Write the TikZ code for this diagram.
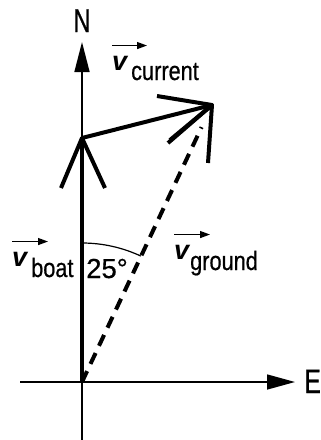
\documentclass[tikz,border=0pt]{standalone}
\usepackage{fontspec}
\setmainfont[FakeStretch=0.82,FakeBold=0.6]{Liberation Sans}
\newfontfamily\vfont{Liberation Sans}
\newfontfamily\widefont[FakeBold=0.6]{Liberation Sans}
\newfontfamily\narrowfont[FakeStretch=0.72,FakeBold=0.6]{Liberation Sans}
\usetikzlibrary{arrows.meta,calc}
\begin{document}
\begin{tikzpicture}[x=1pt,y=-1pt,
 axis/.style={line width=1.5pt},
 vec/.style={line width=4pt},
 barb/.style={line width=4pt, line join=round},
 gvec/.style={line width=4pt, dash pattern=on 12pt off 8pt},
 lbl/.style={inner sep=0pt, anchor=base west, font=\fontsize{26.5}{30}\selectfont},
 vlbl/.style={inner sep=0pt, anchor=base west, font=\vfont\bfseries\itshape\fontsize{27}{30}\selectfont},
 over/.style={line width=1.3pt, -{Triangle[length=10pt,width=7pt]}},
]
\useasboundingbox (0,0) rectangle (321,440);
\coordinate (O) at (82,382);
\coordinate (B) at (82,138);
\coordinate (C) at (212,105);
\coordinate (Nb) at (82,440);
\coordinate (Nt) at (82,42);
\coordinate (Ew) at (20,382);
\coordinate (Ee) at (295,382);
% axes
\draw[axis,-{Triangle[length=30pt,width=15pt]}] (Nb) -- (Nt);
\draw[axis,-{Triangle[length=28pt,width=15pt]}] (Ew) -- (Ee);
% ground (dashed)
\draw[gvec] (O) -- ($(O)!0.92!(C)$);
% boat
\draw[vec] (O) -- (B);
\draw[barb] ($(B)+(-21,50)$) -- (B) -- ($(B)+(23,50)$);
% current
\draw[vec] (B) -- (C);
\draw[barb] ($(C)+(-55,-9)$) -- (C) -- ($(C)+(-42,35)$);
\draw[barb] ($(C)+(-44,38)$) -- (C) -- ($(C)+(-4,58)$);
% angle arc
\draw[line width=1.2pt] ($(O)+(0,-139)$) arc[start angle=270, end angle=295, radius=139];
% labels
\node[inner sep=0pt, anchor=base, font=\narrowfont\fontsize{33}{36}\selectfont] (N) at (82,32) {N};
\node[inner sep=0pt, anchor=base east, font=\narrowfont\fontsize{34}{36}\selectfont] (E) at (321,393) {E};
\node[vlbl] (vc) at (112,70) {v};
\node[lbl] (sc) at (131,80) {current};
\draw[over] ([yshift=10pt]vc.north west) -- ++(35,0);
\node[vlbl] (vb) at (12,266) {v};
\node[lbl] (sb) at (31,277) {boat};
\draw[over] ([yshift=10pt]vb.north west) -- ++(36,0);
\node[vlbl] (vg) at (174,259) {v};
\node[lbl] (sg) at (190,270) {ground};
\draw[over] ([yshift=10pt]vg.north west) -- ++(36,0);
\node[lbl, font=\widefont\fontsize{27.5}{30}\selectfont] (ang) at (86,278) {25°};
\end{tikzpicture}
\end{document}
